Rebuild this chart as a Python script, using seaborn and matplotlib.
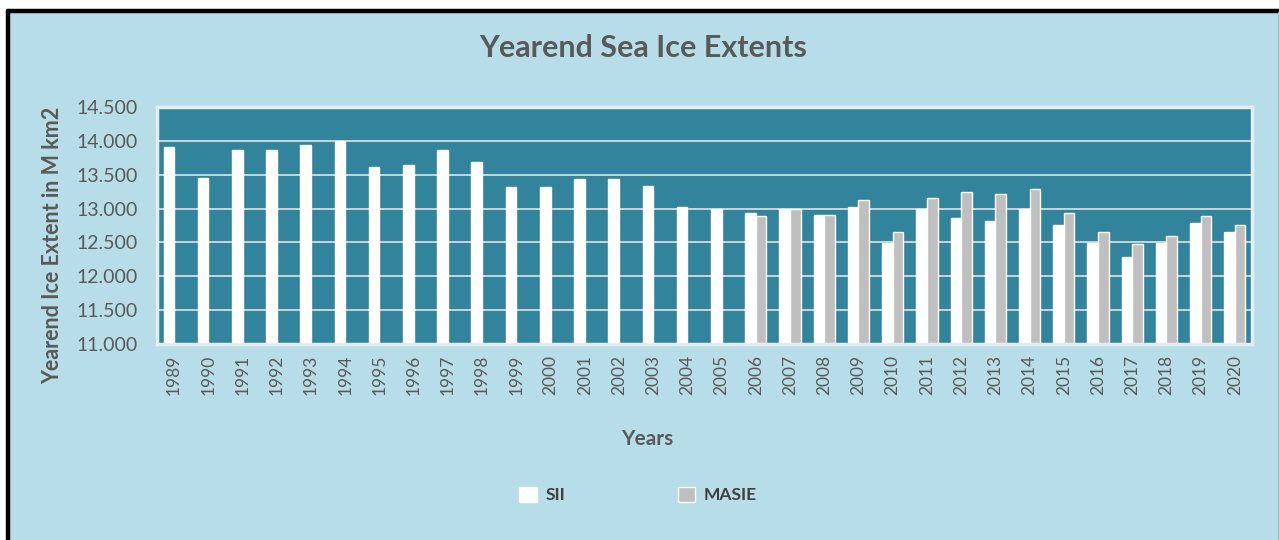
import matplotlib
matplotlib.use("Agg")
import matplotlib.pyplot as plt
from matplotlib.lines import Line2D
from matplotlib.patches import Rectangle
from matplotlib.ticker import FuncFormatter
import pandas as pd
import seaborn as sns

years = list(range(1989, 2021))
sii = [13.91, 13.45, 13.86, 13.86, 13.94, 14.00, 13.61, 13.64, 13.86, 13.69,
       13.32, 13.32, 13.43, 13.43, 13.34, 13.02, 12.99, 12.94, 12.99, 12.91,
       13.02, 12.49, 13.00, 12.86, 12.82, 13.00, 12.76, 12.49, 12.28, 12.49,
       12.78, 12.65]
masie = [None] * 17 + [12.89, 12.99, 12.91, 13.13, 12.65, 13.16, 13.24, 13.21,
                       13.29, 12.94, 12.65, 12.48, 12.60, 12.89, 12.76]

df = pd.concat([
    pd.DataFrame({"year": years, "extent": sii, "series": "SII"}),
    pd.DataFrame({"year": years, "extent": masie, "series": "MASIE"}),
], ignore_index=True)
df["year"] = df["year"].astype(str)

sns.set_style("white")
plt.rcParams["font.family"] = ["Lato", "DejaVu Sans"]

text_col = "#595959"
bg = "#b7dde8"
face = "#31849b"

fig = plt.figure(figsize=(12.79, 5.40), dpi=100)
fig.patch.set_facecolor("white")
fig.patches.append(Rectangle((8 / 1279, 0), 1 - 8 / 1279, 1 - 11 / 540,
                             transform=fig.transFigure, facecolor=bg,
                             edgecolor="none", zorder=-2))
fig.lines.append(Line2D([8 / 1279, 1], [1 - 11 / 540] * 2, transform=fig.transFigure,
                        color="black", lw=3.2, zorder=-1))
fig.lines.append(Line2D([8 / 1279] * 2, [0, 1 - 11 / 540], transform=fig.transFigure,
                        color="black", lw=3.2, zorder=-1))
fig.lines.append(Line2D([1277.5 / 1279] * 2, [0, 1 - 12 / 540], transform=fig.transFigure,
                        color="#9fb7bf", lw=0.8, zorder=-1))

ax = fig.add_axes([157 / 1279, 1 - 344 / 540, (1252 - 157) / 1279, (344 - 107) / 540])
ax.set_facecolor(face)

sns.barplot(data=df, x="year", y="extent", hue="series",
            palette={"SII": "white", "MASIE": "#bfbfbf"},
            width=0.62, gap=0, ax=ax, legend=True, saturation=1)

ax.set_ylim(11, 14.5)
ax.set_xlim(-0.5, len(years) - 0.5)
ax.set_yticks([11 + 0.5 * i for i in range(8)])
ax.yaxis.set_major_formatter(FuncFormatter(lambda v, p: f"{v:.3f}"))
ax.yaxis.grid(True, color="#d3dcdf", lw=1.3)
ax.set_axisbelow(True)
for s in ax.spines.values():
    s.set_color("#e4eef1")
    s.set_linewidth(2.5)
ax.tick_params(axis="both", length=0, colors=text_col)
ax.tick_params(axis="y", labelsize=14, pad=14)
ax.tick_params(axis="x", labelsize=12.5, pad=8)
plt.setp(ax.get_xticklabels(), rotation=90)

ax.set_xlabel("Years", fontsize=15, fontweight="bold", color=text_col)
ax.xaxis.set_label_coords(0.448, -0.36)
ax.set_ylabel("Yearend Ice Extent in M km2", fontsize=15.5, fontweight="bold",
              color=text_col)
ax.yaxis.set_label_coords(-0.086, 0.415)

fig.text(0.503, 1 - 48 / 540, "Yearend Sea Ice Extents", ha="center", va="center",
         fontsize=22, fontweight="bold", color=text_col)

handles, labels = ax.get_legend_handles_labels()
ax.get_legend().remove()
fig.legend(handles, labels, loc="center", bbox_to_anchor=(0.499, 1 - 495 / 540),
           ncol=2, frameon=False, prop={"size": 12.5, "weight": "bold"},
           handlelength=1.0, handleheight=1.0,
           columnspacing=6.5, handletextpad=0.5, labelcolor="#404040")

fig.savefig("out.png", dpi=100, facecolor=fig.get_facecolor())
